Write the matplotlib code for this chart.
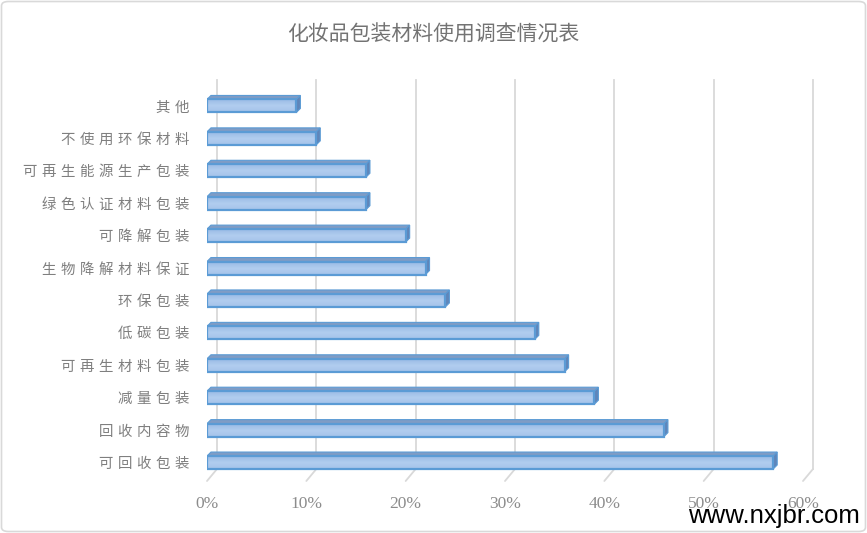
import matplotlib
matplotlib.use("Agg")
import matplotlib.pyplot as plt
import numpy as np
from matplotlib.patches import Polygon, FancyBboxPatch
from matplotlib.transforms import ScaledTranslation

# ---- data ----
categories = ["可回收包装", "回收内容物", "减量包装", "可再生材料包装", "低碳包装", "环保包装",
              "生物降解材料保证", "可降解包装", "绿色认证材料包装", "可再生能源生产包装",
              "不使用环保材料", "其他"]
values = [57, 46, 39, 36, 33, 24, 22, 20, 16, 16, 11, 9]
xticks = [0, 10, 20, 30, 40, 50, 60]
xtick_labels = ["0%", "10%", "20%", "30%", "40%", "50%", "60%"]
title = "化妆品包装材料使用调查情况表"
watermark = "www.nxjbr.com"

W, H = 867, 533
fig = plt.figure(figsize=(W / 100, H / 100), dpi=100)
ax = fig.add_axes([207 / W, 52 / H, 596 / W, 389 / H])
ax.set_xlim(0, 60)
ylo, yhi = -0.57, 11.43
ax.set_ylim(ylo, yhi)
for s in ax.spines.values():
    s.set_visible(False)

grid_c = "#d9d9d9"
back = ScaledTranslation(10 / 100, 12 / 100, fig.dpi_scale_trans)
for t in xticks:
    ax.plot([t, t], [ylo, yhi], color=grid_c, lw=1.3, zorder=0,
            transform=ax.transData + back, clip_on=False)
    ax.annotate("", xy=(t, ylo), xytext=(10, 12), textcoords="offset pixels",
                arrowprops=dict(arrowstyle="-", color=grid_c, lw=1.3,
                                shrinkA=0, shrinkB=0), zorder=0,
                annotation_clip=False)

h = 0.4
dx = 4 * 60 / 596
dy = 4 * (yhi - ylo) / 389
ys = np.arange(len(values))
edge = "#5b9bd5"
grad = np.linspace(0, 1, 64).reshape(-1, 1)
cmap = matplotlib.colors.LinearSegmentedColormap.from_list(
    "g", ["#9abbe5", "#b1cdef", "#a5c3ea"])
bars = ax.barh(ys, values, height=h, color="#a7c4ea", edgecolor="none", zorder=3)
for y, v, b in zip(ys, values, bars):
    top = y + h / 2
    bot = y - h / 2
    ax.add_patch(Polygon([(0, top), (v, top), (v + dx, top + dy), (dx, top + dy)],
                         closed=True, facecolor="#7f9cc5", edgecolor=edge,
                         lw=0.8, zorder=2))
    ax.add_patch(Polygon([(v, bot), (v + dx, bot + dy), (v + dx, top + dy), (v, top)],
                         closed=True, facecolor="#5f85b9", edgecolor=edge,
                         lw=0.8, zorder=2))
    im = ax.imshow(grad, extent=[0, v, bot, top], aspect="auto", cmap=cmap,
                   origin="upper", zorder=3)
    im.set_clip_path(b)
    ax.add_patch(matplotlib.patches.Rectangle((0, bot), v, h, fill=False,
                                              edgecolor=edge, lw=1.6, zorder=4))

ax.set_xticks(xticks)
ax.set_xticklabels(xtick_labels, family="Liberation Serif", fontsize=12.5,
                   color="#8c8c8c")
ax.set_yticks(ys)
ax.set_yticklabels([" ".join(c) for c in categories],
                   family=["DejaVu Sans", "Noto Sans CJK SC"], fontsize=10.4,
                   color="#7f7f7f")
ax.tick_params(axis="x", length=0, pad=11)
ax.tick_params(axis="y", length=0, pad=13)

fig.text(0.5, 1 - 35 / H, title, ha="center", va="center",
         family=["Noto Sans CJK SC", "DejaVu Sans"], fontsize=15, color="#737373")

fig.text(860 / W, 10 / H, watermark, ha="right", va="baseline",
         family="Liberation Sans", fontsize=18.5, color="black")

fig.patches.append(FancyBboxPatch((1.5 / W, 1.5 / H), 1 - 3 / W, 1 - 3 / H,
                                  boxstyle="round,pad=0,rounding_size=0.008",
                                  transform=fig.transFigure, fill=False,
                                  edgecolor="#d9d9d9", lw=1.2))

fig.savefig("out.png", dpi=100)
